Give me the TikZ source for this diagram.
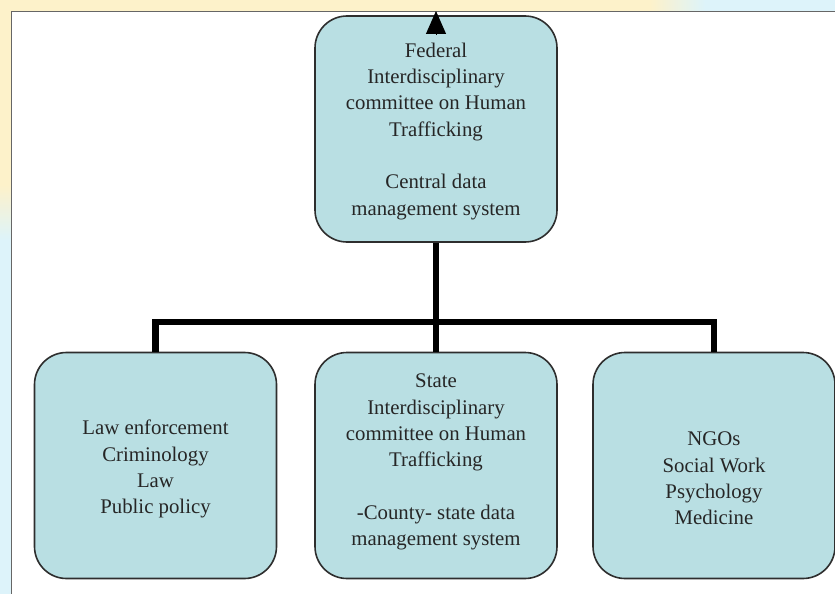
\documentclass[tikz,border=0pt]{standalone}
\usepackage{fontspec}
\setmainfont{Liberation Serif}
\usetikzlibrary{arrows.meta}
\definecolor{boxfill}{HTML}{B9DFE3}
\definecolor{boxline}{HTML}{2E2E2E}
\definecolor{bgyellow}{HTML}{FDF2CA}
\definecolor{bgblue}{HTML}{DDF3FA}
\begin{document}
\begin{tikzpicture}[x=1pt,y=-1pt]
        % Define styles for the boxes and the connectors
        \tikzset{
          unit/.style={draw=boxline,line width=1.6pt,fill=boxfill,rounded corners=32pt,
            minimum width=242pt,minimum height=226pt,inner sep=0pt,align=center,
            text=black!85,font=\fontsize{20.8}{26.3}\selectfont},
          bus/.style={line width=6.5pt,black}
        }
        \useasboundingbox (0,0) rectangle (835,594);

        % Draw the page background and the white panel
        \fill[bgblue] (0,0) rectangle (835,594);
        \fill[bgyellow] (0,0) rectangle (650,11);
        \shade[left color=bgyellow,right color=bgblue] (650,0) rectangle (705,11);
        \fill[bgyellow] (0,0) rectangle (11,185);
        \shade[top color=bgyellow,bottom color=bgblue] (0,185) rectangle (11,240);
        \filldraw[fill=white,draw=black!60,line width=0.8pt] (11,11) rectangle (840,600);

        % Draw the federal box
        \node[unit] (fed) at (436,129) {\rule{0pt}{19pt}Federal\\Interdisciplinary\\committee on Human\\Trafficking\\[26.3pt]Central data\\management system};

        % Draw the three lower boxes
        \node[unit] (law) at (155.5,465.5) {\rule{0pt}{22pt}Law enforcement\\Criminology\\Law\\Public policy};
        \node[unit] (state) at (436,465.5) {State\\Interdisciplinary\\committee on Human\\Trafficking\\[26.3pt]-County- state data\\management system\rule[-11pt]{0pt}{0pt}};
        \node[unit] (ngo) at (714,465.5) {\rule{0pt}{40pt}NGOs\\Social Work\\Psychology\\Medicine};

        % Connect the boxes
        \coordinate (bar) at (436,322);
        \coordinate (exit) at (436,11);
        \draw[bus] (fed.south) -- (state.north);
        \draw[bus] (law.north) |- (bar) -| (ngo.north);
        \draw[line width=1pt,-{Triangle[width=20pt,length=23pt]}] ([yshift=-20pt]fed.north) -- (exit);
        \end{tikzpicture}
\end{document}
